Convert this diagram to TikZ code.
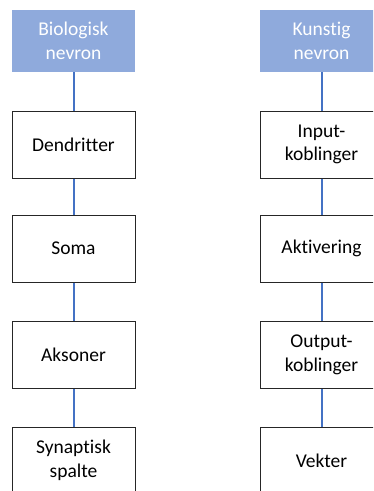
\documentclass[tikz,border=0pt]{standalone}
\usepackage{fontspec}
\setmainfont[Ligatures={NoCommon}]{Carlito}
\definecolor{hdrfill}{HTML}{8FAADC}
\definecolor{connblue}{HTML}{4472C4}
\definecolor{boxline}{HTML}{262626}
\begin{document}
\begin{tikzpicture}[x=1pt,y=-1pt,
  base/.style={rectangle,inner sep=0pt,minimum width=123pt,align=center,
    font=\fontsize{19.5}{23.8}\selectfont},
  hdr/.style={base,fill=hdrfill,text=white,minimum height=62pt},
  stepbox/.style={base,draw=boxline,line width=1pt,fill=white,minimum height=67pt},
  connline/.style={draw=connblue,line width=2pt}]
\useasboundingbox (0,0) rectangle (373,491);
\clip (0,0) rectangle (373,491);
% left column
\node[hdr] (h1) at (73.5,41) {Biologisk\\nevron};
\node[stepbox] (a1) at (73.5,144.5) {Dendritter};
\node[stepbox] (a2) at (73.5,248.5) {Soma};
\node[stepbox] (a3) at (73.5,355) {Aksoner};
\node[stepbox] (a4) at (73.5,460.5) {Synaptisk\\spalte};
% right column
\node[hdr] (h2) at (321.5,41) {Kunstig\\nevron};
\node[stepbox] (b1) at (321.5,144.5) {Input-\\koblinger};
\node[stepbox] (b2) at (321.5,248.5) {Aktivering};
\node[stepbox] (b3) at (321.5,355) {Output-\\koblinger};
\node[stepbox] (b4) at (321.5,460.5) {Vekter};
% connectors
\draw[connline] (h1.south) -- (a1.north);
\draw[connline] (a1.south) -- (a2.north);
\draw[connline] (a2.south) -- (a3.north);
\draw[connline] (a3.south) -- (a4.north);
\draw[connline] (h2.south) -- (b1.north);
\draw[connline] (b1.south) -- (b2.north);
\draw[connline] (b2.south) -- (b3.north);
\draw[connline] (b3.south) -- (b4.north);
\end{tikzpicture}
\end{document}
